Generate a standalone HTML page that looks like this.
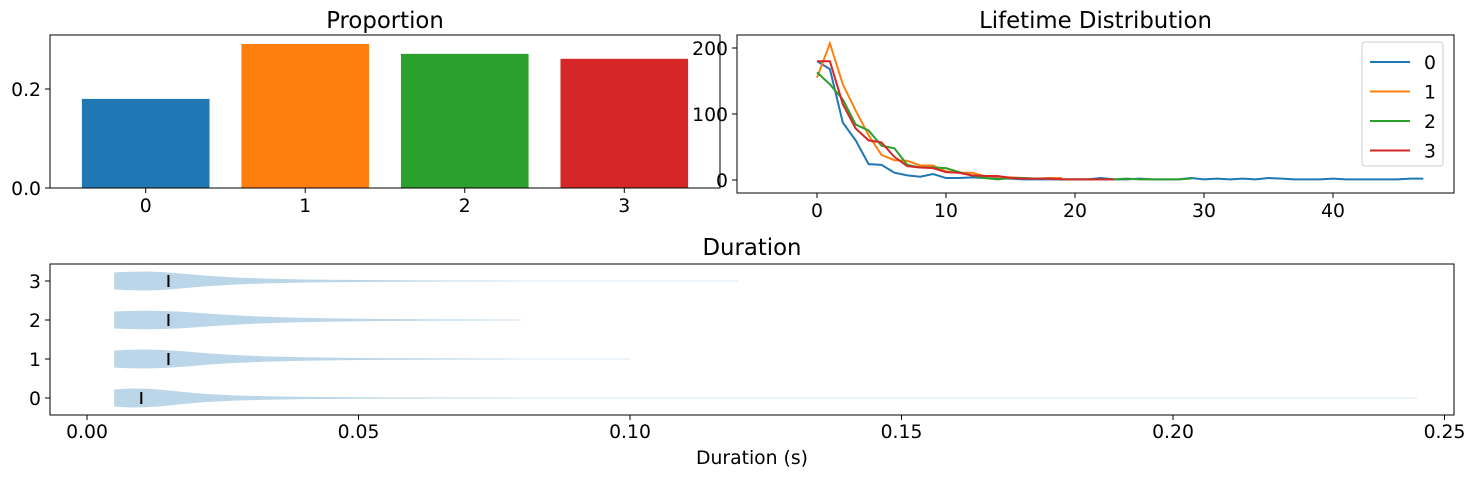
<!DOCTYPE html>
<html><head><meta charset="utf-8"><style>
body{margin:0;background:#fff;font-family:"Liberation Sans","DejaVu Sans",sans-serif;}
svg text{font-family:"DejaVu Sans","Liberation Sans",sans-serif;fill:#000;}
</style></head><body>
<svg id="fig" width="1476" height="478" viewBox="0 0 1476 478" xmlns="http://www.w3.org/2000/svg"></svg>
<script>
const propCats=["0","1","2","3"];
const propVals=[0.18,0.291,0.271,0.261];
const propColors=["#1f77b4","#ff7f0e","#2ca02c","#d62728"];
const propTicks=[0.0,0.2];

const lifeSeries0=[180,168,87,60,24,23,11,7,5,9,3,3,4,3,2,2,1,1,1,1,1,1,3,1,1,2,1,1,1,3,1,2,1,2,1,3,2,1,1,1,2,1,1,1,1,1,2,2];
const lifeSeries1=[155,207,145,105,68,38,30,29,22,22,13,11,11,6,5,4,3,2,3,3];
const lifeSeries2=[163,145,122,84,75,52,48,23,19,19,18,12,7,3,1,3,3,2,2,1,1,1,1,1,2,1,1,1,1,2];
const lifeSeries3=[180,180,115,78,60,57,35,21,19,18,12,11,7,6,6,3,2,2,2,1,1,1,1,1];
const lifeXTicks=[0,10,20,30,40];
const lifeYTicks=[0,100,200];

const durCats=["0","1","2","3"];
const durX=[0.005,0.008,0.011,0.014,0.018,0.022,0.027,0.033,0.04,0.05,0.065,0.08,0.1,0.12,0.15,0.2,0.245];
const durDens0=[0.9,1.0,0.97,0.85,0.62,0.42,0.28,0.18,0.12,0.08,0.05,0.03,0.02,0.012,0.008,0.005,0.003];
const durDens1=[0.9,0.98,1.0,0.95,0.8,0.6,0.42,0.28,0.18,0.1,0.06,0.03,0.015,0,0,0,0];
const durDens2=[0.9,0.95,0.97,0.95,0.85,0.68,0.5,0.34,0.22,0.13,0.06,0.02,0,0,0,0,0];
const durDens3=[0.9,0.98,1.0,0.93,0.75,0.55,0.38,0.25,0.16,0.1,0.05,0.025,0.01,0.004,0,0,0];
const durMedians=[0.010,0.015,0.015,0.015];
const durXTicks=[0.00,0.05,0.10,0.15,0.20,0.25];

const NS="http://www.w3.org/2000/svg";
const svg=document.getElementById('fig');
const TK=18.8, TT=22.8;
function mk(tag,attrs,parent){const e=document.createElementNS(NS,tag);for(const k in attrs)e.setAttribute(k,attrs[k]);(parent||svg).appendChild(e);return e;}
function txt(x,y,s,size,anchor,parent){const t=mk('text',{x:x,y:y,'font-size':size,'text-anchor':anchor||'middle'},parent);t.textContent=s;return t;}

// ---- Proportion
{
const g=mk('g',{});


const L=50,R=720,T=35,B=188;
const sx=v=>L+(v+0.6)/4.2*(R-L);
const sy=v=>B-v/0.2*99;
propVals.forEach((v,i)=>{
 const r=mk('rect',{x:sx(i-0.4),y:sy(v),width:sx(0.4)-sx(-0.4),height:B-sy(v),fill:propColors[i]},g);
 
 
 mk('line',{x1:sx(i),x2:sx(i),y1:B,y2:B+5,stroke:'#000'},g);
 txt(sx(i),B+24,propCats[i],TK,'middle',g);
});
propTicks.forEach(v=>{mk('line',{x1:L-5,x2:L,y1:sy(v),y2:sy(v),stroke:'#000'},g);txt(L-9,sy(v)+7,v.toFixed(1),TK,'end',g);});
mk('rect',{x:L,y:T,width:R-L,height:B-T,fill:'none',stroke:'#000'},g);
const t=txt((L+R)/2,28,'Proportion',TT,'middle',g);


}

// ---- Lifetime
{
const g=mk('g',{});


const L=737,R=1454,T=35,B=193;
const sx=v=>817+v*12.9;
const sy=v=>180-v*0.66;
lifeXTicks.forEach(v=>{mk('line',{x1:sx(v),x2:sx(v),y1:B,y2:B+5,stroke:'#000'},g);txt(sx(v),B+24,String(v),TK,'middle',g);});
lifeYTicks.forEach(v=>{mk('line',{x1:L-5,x2:L,y1:sy(v),y2:sy(v),stroke:'#000'},g);txt(L-9,sy(v)+7,String(v),TK,'end',g);});
[lifeSeries0,lifeSeries1,lifeSeries2,lifeSeries3].forEach((s,i)=>{
 const p=mk('polyline',{points:s.map((v,j)=>sx(j)+','+sy(v)).join(' '),fill:'none',stroke:propColors[i],'stroke-width':2},g);
 
 
});
mk('rect',{x:L,y:T,width:R-L,height:B-T,fill:'none',stroke:'#000'},g);
const lg=mk('g',{},g);


mk('rect',{x:1362,y:42,width:81,height:124,rx:3,fill:'#fff',stroke:'#ccc'},lg);
['0','1','2','3'].forEach((s,i)=>{
 const y=62+i*29.5;
 const e=mk('g',{},lg);
 
 
 mk('line',{x1:1370,x2:1410,y1:y,y2:y,stroke:propColors[i],'stroke-width':2},e);
 txt(1424,y+7,s,TK,'start',e);
});
const t=txt((L+R)/2,28,'Lifetime Distribution',TT,'middle',g);


}

// ---- Duration
{
const g=mk('g',{});


const L=50,R=1454,T=264,B=415;
const sx=v=>87+v*5430;
const sy=i=>398-i*39;
const HW=9.5;
[durDens0,durDens1,durDens2,durDens3].forEach((d,i)=>{
 const cy=sy(i);
 let top=[],bot=[];
 durX.forEach((x,j)=>{if(j===0||d[j]>0){const h=Math.max(d[j]*HW,0.3);top.push(sx(x)+','+(cy-h));bot.unshift(sx(x)+','+(cy+h));}});
 const p=mk('polygon',{points:top.concat(bot).join(' '),fill:'#1f77b4','fill-opacity':0.3},g);
 
 
 const m=mk('line',{x1:sx(durMedians[i]),x2:sx(durMedians[i]),y1:cy-6,y2:cy+6,stroke:'#000','stroke-width':2},g);
 
 
 mk('line',{x1:L-5,x2:L,y1:cy,y2:cy,stroke:'#000'},g);
 txt(L-9,cy+7,durCats[i],TK,'end',g);
});
durXTicks.forEach(v=>{mk('line',{x1:sx(v),x2:sx(v),y1:B,y2:B+5,stroke:'#000'},g);txt(sx(v),B+23,v.toFixed(2),TK,'middle',g);});
mk('rect',{x:L,y:T,width:R-L,height:B-T,fill:'none',stroke:'#000'},g);
const xt=txt(752,464,'Duration (s)',TK,'middle',g);


const t=txt(752,255,'Duration',TT,'middle',g);


}
</script>
</body></html>
